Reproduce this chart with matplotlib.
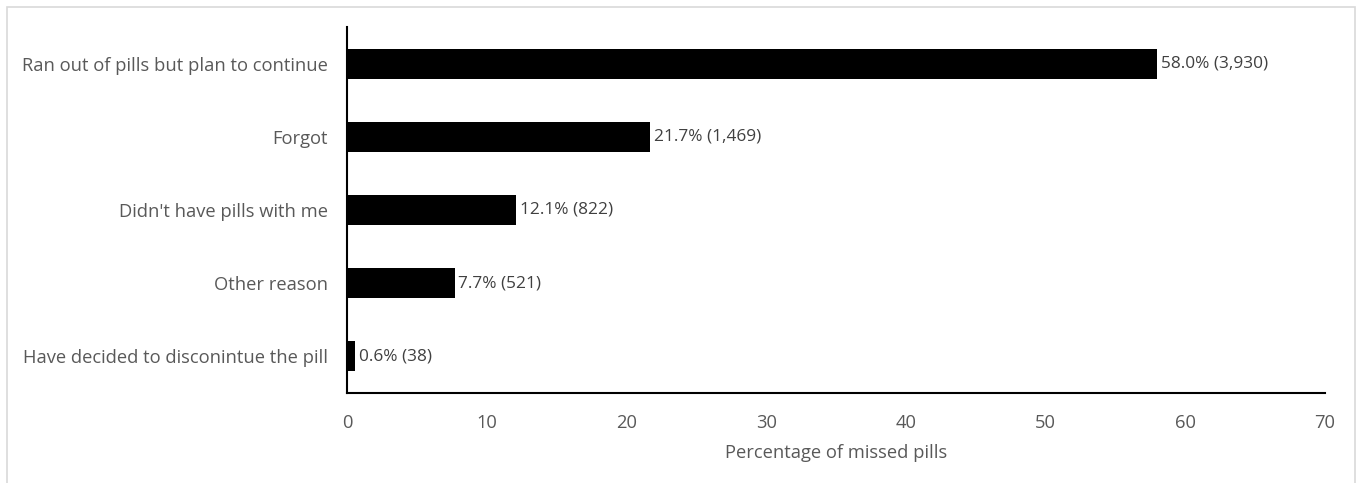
import matplotlib
matplotlib.use('Agg')
import matplotlib.pyplot as plt
from matplotlib.patches import Rectangle

reasons = ['Ran out of pills but plan to continue', 'Forgot', "Didn't have pills with me",
           'Other reason', 'Have decided to disconintue the pill']
pct = [58.0, 21.7, 12.1, 7.7, 0.6]
counts = [3930, 1469, 822, 521, 38]
xticks = [0, 10, 20, 30, 40, 50, 60, 70]

plt.rcParams['font.family'] = ['Open Sans', 'DejaVu Sans']
grey = '#595959'

fig = plt.figure(figsize=(13.64, 4.83), dpi=100)
ax = fig.add_axes([347/1364, 1-393/483, (1325-347)/1364, (393-27)/483])

# outer chart border (light grey), runs past the bottom edge
fig.patches.append(Rectangle((7/1364, -0.2), (1355-7)/1364, 1.2-7/483,
                             transform=fig.transFigure, fill=False,
                             edgecolor='#d9d9d9', lw=1.2))

ypos = list(range(len(reasons)))
ax.barh(ypos, pct, height=0.41, color='black')
for y, p, c in zip(ypos, pct, counts):
    ax.text(p + 0.25, y, '%.1f%% (%s)' % (p, format(c, ',')), va='center', ha='left',
            fontsize=12.4, color='#404040')

ax.set_ylim(4.5, -0.5)
ax.set_xlim(0, 70)
ax.set_yticks(ypos)
ax.set_yticklabels(reasons, fontsize=13.2, color=grey)
ax.set_xticks(xticks)
ax.set_xticklabels([str(t) for t in xticks], fontsize=13.2, color=grey)
ax.tick_params(length=0)
ax.tick_params(axis='y', pad=14)
ax.tick_params(axis='x', pad=15)
ax.set_xlabel('Percentage of missed pills', fontsize=13.2, color=grey, labelpad=9)

for s in ['top', 'right']:
    ax.spines[s].set_visible(False)
for s in ['left', 'bottom']:
    ax.spines[s].set_linewidth(1.5)
    ax.spines[s].set_color('black')

fig.savefig('out.png', dpi=100)
